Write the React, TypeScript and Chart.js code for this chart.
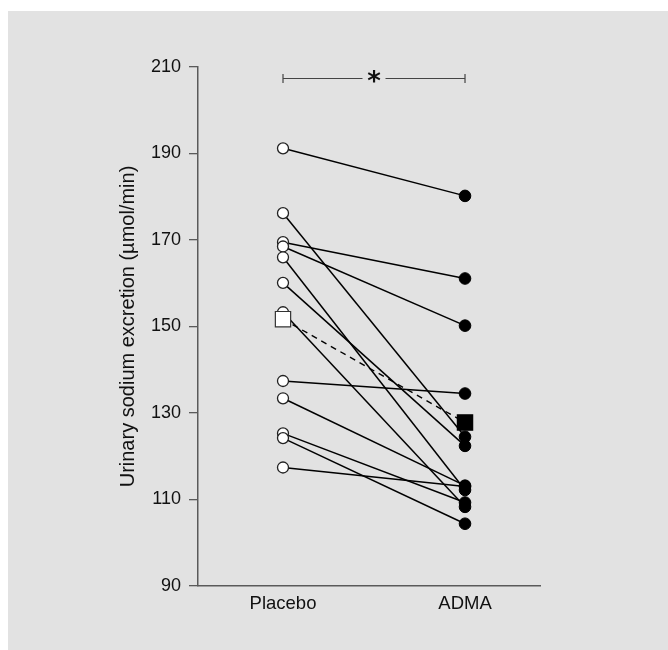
import React, { useEffect, useRef } from 'react';
import { Chart, registerables } from 'chart.js';

Chart.register(...registerables);

// ---- data ----
const categories = ['Placebo', 'ADMA'];
const placeboValues = [191.2, 176.2, 169.5, 168.5, 166.0, 160.1, 153.3, 137.4, 133.4, 125.3, 124.2, 117.4];
const admaValues = [180.2, 124.5, 161.1, 150.2, 112.2, 122.4, 108.3, 134.5, 113.2, 109.3, 104.4, 113.0];
const meanValues = [151.7, 127.8];
const yTicks = [90, 110, 130, 150, 170, 190, 210];
const yTitle = 'Urinary sodium excretion (µmol/min)';
const significanceLabel = '*';
const significanceLevel = 207.5;

const FONT = "'Liberation Sans', Arial, Helvetica, sans-serif";
const BG = '#e2e2e2';
const AXIS = '#5a5a5a';
const TEXT = '#111111';

export default function App() {
  const ref = useRef<HTMLCanvasElement>(null);

  useEffect(() => {
    const canvas = ref.current;
    if (!canvas) return;

    const pairLines = placeboValues.map((p, i) => ({
      type: 'line' as const,
      data: [
        { x: 0, y: p },
        { x: 1, y: admaValues[i] },
      ],
      borderColor: '#000',
      borderWidth: 1.5,
      pointRadius: 0,
      order: 4,
    }));

    const placeboPoints = {
      type: 'line' as const,
      data: placeboValues.map((v) => ({ x: 0, y: v })),
      showLine: false,
      pointRadius: 5.5,
      pointBackgroundColor: '#ffffff',
      pointBorderColor: '#222',
      pointBorderWidth: 1.3,
      order: 3,
    };

    const admaPoints = {
      type: 'line' as const,
      data: admaValues.map((v) => ({ x: 1, y: v })),
      showLine: false,
      pointRadius: 5.8,
      pointBackgroundColor: '#000',
      pointBorderColor: '#000',
      pointBorderWidth: 1,
      order: 2,
    };

    const meanSet = {
      type: 'line' as const,
      data: meanValues.map((v, i) => ({ x: i, y: v })),
      borderColor: '#000',
      borderWidth: 1.4,
      borderDash: [6, 5],
      pointStyle: 'rect',
      pointRadius: 10.8,
      pointBackgroundColor: ['#ffffff', '#000000'],
      pointBorderColor: ['#333', '#000'],
      pointBorderWidth: 1.2,
      order: 1,
    };

    const backgroundPlugin = {
      id: 'bg',
      beforeDraw(chart: any) {
        const c = chart.ctx;
        c.save();
        c.fillStyle = BG;
        c.fillRect(8, 11, chart.width - 8, chart.height - 11);
        c.restore();
      },
    };

    const bracketPlugin = {
      id: 'bracket',
      afterDraw(chart: any) {
        const c = chart.ctx;
        const xs = chart.scales.x;
        const ys = chart.scales.y;
        const x0 = xs.getPixelForValue(0);
        const x1 = xs.getPixelForValue(1);
        const y = Math.round(ys.getPixelForValue(significanceLevel)) + 0.5;
        const mid = (x0 + x1) / 2;
        const gap = 11.5;
        c.save();
        c.strokeStyle = '#444';
        c.lineWidth = 1.2;
        c.beginPath();
        c.moveTo(x0, y);
        c.lineTo(mid - gap, y);
        c.moveTo(mid + gap, y);
        c.lineTo(x1, y);
        c.moveTo(x0, y - 4.5);
        c.lineTo(x0, y + 4.5);
        c.moveTo(x1, y - 4.5);
        c.lineTo(x1, y + 4.5);
        c.stroke();
        c.fillStyle = TEXT;
        c.font = `bold 26px 'DejaVu Sans', sans-serif`;
        c.textAlign = 'center';
        c.textBaseline = 'middle';
        c.fillText(significanceLabel, mid, y + 5);
        c.restore();
      },
    };

    const chart = new Chart(canvas, {
      type: 'line',
      data: { datasets: [meanSet, admaPoints, placeboPoints, ...pairLines] as any },
      options: {
        responsive: false,
        animation: false,
        events: [],
        layout: { padding: { left: 112, top: 67, right: 128, bottom: 0 } },
        plugins: {
          legend: { display: false },
          tooltip: { enabled: false },
        },
        scales: {
          x: {
            type: 'linear',
            min: -0.467,
            max: 1.412,
            afterBuildTicks: (scale: any) => {
              scale.ticks = categories.map((_, i) => ({ value: i }));
            },
            afterFit: (scale: any) => {
              scale.height = 64;
            },
            grid: { display: false },
            border: { display: true, color: AXIS, width: 1.5 },
            ticks: {
              autoSkip: false,
              maxRotation: 0,
              padding: -1,
              color: TEXT,
              font: { family: FONT, size: 18.5 },
              callback: (v: any) => categories[v as number] ?? '',
            },
          },
          y: {
            type: 'linear',
            min: 90,
            max: 210,
            afterBuildTicks: (scale: any) => {
              scale.ticks = yTicks.map((v) => ({ value: v }));
            },
            afterFit: (scale: any) => {
              scale.width = 86;
            },
            grid: {
              display: true,
              drawOnChartArea: false,
              drawTicks: true,
              tickLength: 9,
              color: AXIS,
              lineWidth: 1.3,
            },
            border: { display: true, color: AXIS, width: 1.5 },
            ticks: {
              padding: 8,
              color: TEXT,
              font: { family: FONT, size: 18 },
            },
            title: {
              display: true,
              text: yTitle,
              color: TEXT,
              font: { family: FONT, size: 20 },
              padding: { top: 4, bottom: 4 },
            },
          },
        },
      },
      plugins: [backgroundPlugin, bracketPlugin],
    });

    return () => chart.destroy();
  }, []);

  return (
    <div style={{ position: 'fixed', left: 0, top: 0, width: 668, height: 650, overflow: 'hidden' }}>
      <canvas ref={ref} width={668} height={650} style={{ display: 'block' }} />
    </div>
  );
}
